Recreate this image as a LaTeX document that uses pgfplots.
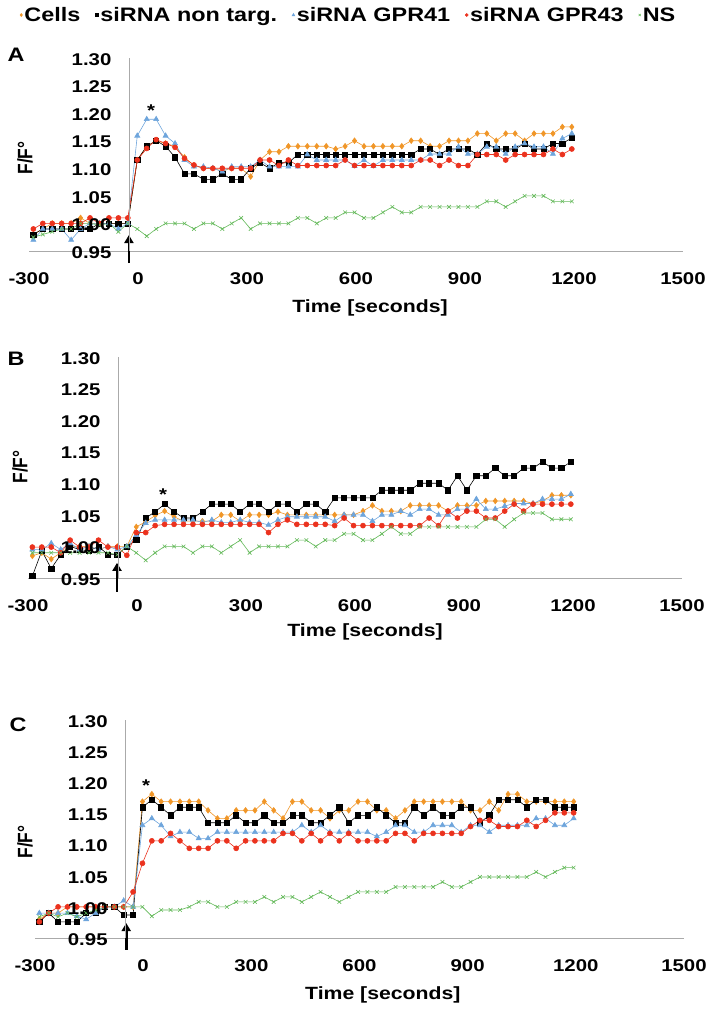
\documentclass[border=0pt]{standalone}
\usepackage{fontspec}
\setmainfont{Liberation Sans}[FakeStretch=1.2]
\newfontfamily\plainsans{Liberation Sans}
\usepackage{pgfplots}
\pgfplotsset{compat=1.18}
\usepackage{pgfplotstable}
\usetikzlibrary{arrows.meta}

\definecolor{corange}{RGB}{240,150,40}
\definecolor{cblue}{RGB}{110,165,220}
\definecolor{cred}{RGB}{235,50,30}
\definecolor{cgreen}{RGB}{100,185,90}
\definecolor{axgray}{RGB}{170,170,170}

% t = time [s], c = Cells, n = siRNA non targ., a = siRNA GPR41, b = siRNA GPR43, s = NS
\pgfplotstableread{
t c n a b s
-288 0.98 0.98 0.97 0.99 0.975
-262 0.99 0.99 0.99 1.00 0.98
-236 1.00 0.99 0.99 1.00 0.985
-210 1.00 0.99 0.99 1.00 0.99
-184 1.00 0.99 0.97 1.00 0.99
-158 1.01 0.99 0.99 1.00 1.00
-132 1.00 0.99 1.00 1.01 1.00
-106 1.00 1.00 1.00 1.00 0.997
-80 1.00 1.00 1.00 1.01 1.00
-54 1.00 1.00 0.99 1.01 0.985
-28 1.00 1.00 1.00 1.01 1.00
-2 1.115 1.115 1.159 1.115 0.99
24 1.14 1.14 1.189 1.136 0.977
50 1.15 1.15 1.189 1.152 0.99
76 1.145 1.14 1.159 1.145 1.00
102 1.14 1.12 1.145 1.138 1.00
128 1.12 1.09 1.115 1.118 1.00
154 1.105 1.09 1.103 1.106 0.99
180 1.10 1.08 1.103 1.10 1.00
206 1.10 1.08 1.10 1.10 1.00
232 1.095 1.09 1.094 1.10 0.99
258 1.10 1.08 1.103 1.10 1.00
284 1.10 1.08 1.103 1.10 1.01
310 1.085 1.10 1.103 1.10 0.99
336 1.115 1.11 1.115 1.115 1.00
362 1.13 1.10 1.103 1.115 1.00
388 1.13 1.11 1.103 1.105 1.00
414 1.14 1.11 1.103 1.115 1.00
440 1.14 1.125 1.103 1.105 1.01
466 1.14 1.125 1.125 1.105 1.01
492 1.14 1.125 1.115 1.105 1.00
518 1.14 1.125 1.115 1.105 1.01
544 1.135 1.125 1.115 1.105 1.01
570 1.14 1.125 1.115 1.115 1.02
596 1.15 1.125 1.104 1.105 1.02
622 1.14 1.125 1.115 1.105 1.01
648 1.14 1.125 1.104 1.105 1.01
674 1.14 1.125 1.115 1.105 1.02
700 1.14 1.125 1.115 1.105 1.03
726 1.14 1.125 1.115 1.105 1.02
752 1.15 1.125 1.115 1.105 1.02
778 1.15 1.135 1.115 1.115 1.03
804 1.14 1.135 1.126 1.115 1.03
830 1.14 1.125 1.126 1.105 1.03
856 1.15 1.135 1.126 1.115 1.03
882 1.15 1.135 1.139 1.105 1.03
908 1.15 1.135 1.126 1.105 1.03
934 1.163 1.125 1.126 1.125 1.03
960 1.163 1.145 1.139 1.125 1.04
986 1.15 1.135 1.139 1.125 1.04
1012 1.163 1.135 1.126 1.115 1.03
1038 1.163 1.135 1.139 1.125 1.04
1064 1.15 1.145 1.145 1.125 1.05
1090 1.163 1.135 1.139 1.125 1.05
1116 1.163 1.135 1.139 1.125 1.05
1142 1.163 1.145 1.126 1.135 1.04
1168 1.175 1.145 1.154 1.125 1.04
1194 1.175 1.155 1.163 1.135 1.04
}\tabA

\pgfplotstableread{
t c n a b s
-288 0.985 0.953 0.995 0.999 0.99
-262 0.99 0.993 0.995 0.999 0.99
-236 0.98 0.965 1.005 0.999 0.99
-210 0.99 0.987 0.995 0.99 0.99
-184 1.00 1.00 1.005 1.01 0.99
-158 1.00 0.995 0.995 0.999 0.99
-132 1.00 0.993 1.00 0.999 0.99
-106 0.995 1.00 0.995 1.01 0.99
-80 1.00 0.987 1.00 0.999 0.99
-54 1.00 0.987 0.995 0.999 0.987
-28 1.00 1.00 1.00 0.986 1.00
-2 1.031 1.01 1.018 1.022 0.99
24 1.039 1.045 1.037 1.022 0.978
50 1.049 1.055 1.042 1.033 0.99
76 1.056 1.067 1.042 1.035 1.00
102 1.047 1.055 1.042 1.035 1.00
128 1.04 1.045 1.042 1.035 1.00
154 1.04 1.045 1.042 1.035 0.99
180 1.04 1.055 1.038 1.035 1.00
206 1.04 1.067 1.042 1.035 1.00
232 1.05 1.067 1.038 1.035 0.99
258 1.05 1.067 1.038 1.035 1.00
284 1.04 1.055 1.042 1.035 1.01
310 1.05 1.067 1.038 1.035 0.99
336 1.05 1.067 1.038 1.035 1.00
362 1.05 1.055 1.034 1.022 1.00
388 1.055 1.067 1.042 1.035 1.00
414 1.05 1.067 1.047 1.042 1.00
440 1.05 1.055 1.047 1.035 1.01
466 1.05 1.067 1.047 1.035 1.01
492 1.05 1.067 1.047 1.035 1.00
518 1.05 1.055 1.047 1.035 1.01
544 1.05 1.077 1.04 1.033 1.01
570 1.05 1.077 1.05 1.045 1.02
596 1.05 1.077 1.05 1.033 1.02
622 1.056 1.077 1.05 1.033 1.01
648 1.065 1.077 1.04 1.033 1.01
674 1.056 1.089 1.05 1.033 1.02
700 1.056 1.089 1.05 1.033 1.031
726 1.056 1.089 1.056 1.033 1.02
752 1.065 1.089 1.05 1.033 1.02
778 1.065 1.10 1.059 1.033 1.031
804 1.065 1.10 1.059 1.045 1.031
830 1.065 1.10 1.05 1.033 1.031
856 1.056 1.089 1.05 1.056 1.031
882 1.065 1.112 1.059 1.045 1.031
908 1.065 1.089 1.059 1.056 1.031
934 1.065 1.112 1.075 1.056 1.031
960 1.072 1.112 1.059 1.045 1.043
986 1.072 1.124 1.059 1.045 1.043
1012 1.072 1.112 1.064 1.056 1.031
1038 1.072 1.112 1.068 1.067 1.043
1064 1.072 1.124 1.068 1.056 1.053
1090 1.068 1.124 1.068 1.067 1.053
1116 1.072 1.134 1.075 1.067 1.053
1142 1.081 1.124 1.075 1.067 1.043
1168 1.081 1.124 1.075 1.067 1.043
1194 1.081 1.134 1.083 1.067 1.043
}\tabB

\pgfplotstableread{
t c n a b s
-288 0.98 0.976 0.99 0.976 0.984
-262 0.99 0.99 0.99 0.99 0.99
-236 0.99 0.976 0.99 1.00 0.984
-210 1.00 0.976 0.99 1.00 0.99
-184 1.00 0.976 0.985 1.00 0.984
-158 1.00 0.99 0.98 1.00 0.99
-132 1.00 0.99 0.99 1.00 0.995
-106 1.00 1.00 1.00 1.00 1.00
-80 1.00 1.00 1.00 1.00 1.00
-54 1.00 0.987 1.01 1.00 1.00
-28 1.00 0.987 1.00 1.024 1.00
-2 1.169 1.16 1.131 1.07 1.00
24 1.181 1.172 1.142 1.106 0.985
50 1.169 1.16 1.131 1.106 0.995
76 1.169 1.147 1.113 1.118 0.995
102 1.169 1.16 1.12 1.106 0.995
128 1.169 1.16 1.12 1.094 1.00
154 1.169 1.16 1.11 1.094 1.008
180 1.155 1.135 1.11 1.094 1.008
206 1.142 1.135 1.12 1.106 1.00
232 1.142 1.135 1.12 1.106 1.00
258 1.155 1.147 1.12 1.094 1.008
284 1.155 1.135 1.12 1.106 1.008
310 1.155 1.135 1.12 1.106 1.008
336 1.169 1.147 1.12 1.106 1.016
362 1.155 1.135 1.12 1.106 1.008
388 1.142 1.135 1.12 1.118 1.016
414 1.169 1.147 1.12 1.118 1.016
440 1.169 1.147 1.131 1.106 1.008
466 1.155 1.135 1.12 1.118 1.016
492 1.155 1.135 1.131 1.106 1.024
518 1.142 1.147 1.12 1.118 1.016
544 1.155 1.16 1.12 1.106 1.008
570 1.155 1.135 1.12 1.118 1.016
596 1.169 1.147 1.12 1.106 1.024
622 1.169 1.147 1.12 1.106 1.024
648 1.155 1.16 1.113 1.106 1.024
674 1.155 1.147 1.12 1.106 1.024
700 1.142 1.135 1.131 1.118 1.032
726 1.155 1.135 1.131 1.118 1.032
752 1.169 1.16 1.12 1.106 1.032
778 1.169 1.147 1.12 1.118 1.032
804 1.169 1.16 1.131 1.118 1.032
830 1.169 1.147 1.131 1.118 1.04
856 1.169 1.147 1.131 1.118 1.032
882 1.169 1.16 1.12 1.118 1.032
908 1.155 1.16 1.131 1.129 1.04
934 1.155 1.135 1.131 1.139 1.048
960 1.169 1.147 1.12 1.139 1.048
986 1.155 1.172 1.131 1.129 1.048
1012 1.181 1.172 1.131 1.129 1.048
1038 1.181 1.172 1.131 1.129 1.048
1064 1.169 1.16 1.131 1.139 1.048
1090 1.169 1.172 1.142 1.129 1.056
1116 1.169 1.172 1.142 1.139 1.048
1142 1.169 1.16 1.131 1.151 1.056
1168 1.169 1.16 1.131 1.151 1.063
1194 1.169 1.16 1.142 1.151 1.063
}\tabC

\pgfplotsset{
  panel/.style={
    scale only axis,
    axis x line=bottom, axis y line=middle,
    axis line style={-, draw=axgray, line width=0.8pt},
    ymin=0.95, ymax=1.30,
    ytick=\empty,
    xticklabels={-300,0,300,600,900,1200,1500},
    major tick length=0pt,
    tick style={draw=none},
    hide obscured x ticks=false, hide obscured y ticks=false,
    tick label style={font=\bfseries\fontsize{17}{20}\selectfont},
    xticklabel style={yshift=-18pt},
    clip=false,
    legend image code/.code={\draw[#1, mark size=1.5pt] plot[only marks] coordinates {(0pt,0pt)};},
  },
  % y tick labels drawn in a second, empty axis so that they lie over the data
  ylabels/.style={
    scale only axis,
    axis x line=none, axis y line=middle,
    axis line style={-, draw=axgray, line width=0.8pt},
    ymin=0.95, ymax=1.30,
    xtick=\empty,
    ytick={0.95,1.00,1.05,1.10,1.15,1.20,1.25,1.30},
    yticklabels={0.95,1.00,1.05,1.10,1.15,1.20,1.25,1.30},
    major tick length=0pt,
    tick style={draw=none},
    hide obscured x ticks=false, hide obscured y ticks=false,
    tick label style={font=\bfseries\fontsize{17}{20}\selectfont},
    yticklabel style={xshift=-14pt, yshift=-1.5pt},
  },
  sC/.style={color=corange, mark=diamond*, mark size=2.8pt, line width=0.6pt},
  sN/.style={color=black, mark=square*, mark size=2.6pt, line width=0.6pt},
  sA/.style={color=cblue, mark=triangle*, mark size=2.9pt, line width=0.6pt},
  sB/.style={color=cred, mark=*, mark size=2.5pt, line width=0.6pt},
  sS/.style={color=cgreen, mark=x, mark size=2.6pt, line width=0.6pt},
}
\tikzset{
  ylab/.style={rotate=90, yscale=1.2, font=\plainsans\bfseries\fontsize{17.4}{20}\selectfont},
  xlab/.style={font=\bfseries\fontsize{17.7}{20}\selectfont},
  stim/.style={-{Triangle[width=9pt,length=8pt]}, line width=2.8pt, black},
  plab/.style={font=\bfseries\fontsize{19.5}{22}\selectfont},
}

\begin{document}
\begin{tikzpicture}[font=\bfseries\fontsize{17}{20}\selectfont]
\useasboundingbox (0pt,0pt) rectangle (714pt,-1013pt);

% panel A
\begin{axis}[panel, at={(29pt,-251pt)}, anchor=south west,
  width=654pt, height=193pt,
  xmin=-275, xmax=1525, xtick={-275,25,325,625,925,1225,1525},
  legend style={draw=none, fill=none, inner sep=0pt,
    at={(axis description cs:-0.0138,1.2228)}, anchor=west,
    legend columns=-1, font=\bfseries\fontsize{19.5}{22}\selectfont,
    nodes={inner sep=2pt},
    /tikz/every even column/.append style={column sep=13pt}},
]
\addplot[sC] table[x expr=\thisrow{t}+25, y=c] {\tabA};
\addlegendentry{Cells}
\addplot[sN] table[x expr=\thisrow{t}+25, y=n] {\tabA};
\addlegendentry{siRNA non targ.}
\addplot[sA] table[x expr=\thisrow{t}+25, y=a] {\tabA};
\addlegendentry{siRNA GPR41}
\addplot[sB] table[x expr=\thisrow{t}+25, y=b] {\tabA};
\addlegendentry{siRNA GPR43}
\addplot[sS] table[x expr=\thisrow{t}+25, y=s] {\tabA};
\addlegendentry{NS}
\node at (axis cs:61,1.204) {*};
\draw[stim] (axis cs:0,0.928) -- (axis cs:0,0.979);
\node[ylab] at (axis description cs:-0.0061,0.482) {F/F°};
\node[xlab] at (axis description cs:0.5214,-0.2953) {Time [seconds]};
\end{axis}
\begin{axis}[ylabels, at={(29pt,-251pt)}, anchor=south west,
  width=654pt, height=193pt, xmin=-275, xmax=1525]
\end{axis}

% panel B
\begin{axis}[panel, at={(28pt,-578pt)}, anchor=south west,
  width=654pt, height=221pt,
  xmin=-248, xmax=1552, xtick={-248,52,352,652,952,1252,1552},
]
\addplot[sC] table[x expr=\thisrow{t}+52, y=c] {\tabB};
\addplot[sN] table[x expr=\thisrow{t}+52, y=n] {\tabB};
\addplot[sA] table[x expr=\thisrow{t}+52, y=a] {\tabB};
\addplot[sB] table[x expr=\thisrow{t}+52, y=b] {\tabB};
\addplot[sS] table[x expr=\thisrow{t}+52, y=s] {\tabB};
\node at (axis cs:124,1.0815) {*};
\draw[stim] (axis cs:-3,0.928) -- (axis cs:-3,0.974);
\node[ylab] at (axis description cs:-0.0122,0.502) {F/F°};
\node[xlab] at (axis description cs:0.5153,-0.2443) {Time [seconds]};
\end{axis}
\begin{axis}[ylabels, at={(28pt,-578pt)}, anchor=south west,
  width=654pt, height=221pt, xmin=-248, xmax=1552]
\end{axis}

% panel C
\begin{axis}[panel, at={(35pt,-938pt)}, anchor=south west,
  width=649pt, height=218pt,
  xmin=-250, xmax=1550, xtick={-250,50,350,650,950,1250,1550},
]
\addplot[sC] table[x expr=\thisrow{t}+50, y=c] {\tabC};
\addplot[sN] table[x expr=\thisrow{t}+50, y=n] {\tabC};
\addplot[sA] table[x expr=\thisrow{t}+50, y=a] {\tabC};
\addplot[sB] table[x expr=\thisrow{t}+50, y=b] {\tabC};
\addplot[sS] table[x expr=\thisrow{t}+50, y=s] {\tabC};
\node at (axis cs:58,1.194) {*};
\draw[stim] (axis cs:3,0.931) -- (axis cs:3,0.974);
\node[ylab] at (axis description cs:-0.0154,0.440) {F/F°};
\node[xlab] at (axis description cs:0.536,-0.2615) {Time [seconds]};
\end{axis}
\begin{axis}[ylabels, at={(35pt,-938pt)}, anchor=south west,
  width=649pt, height=218pt, xmin=-250, xmax=1550]
\end{axis}

\node[plab] at (16pt,-55pt) {A};
\node[plab] at (16pt,-359pt) {B};
\node[plab] at (18pt,-725pt) {C};
\end{tikzpicture}
\end{document}
